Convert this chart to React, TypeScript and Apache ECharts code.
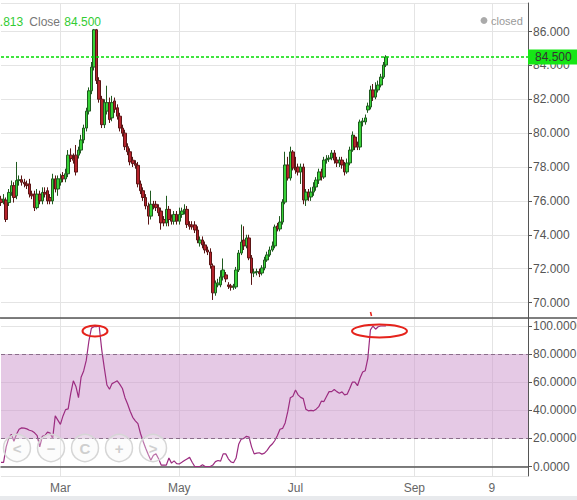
import React, { useEffect, useRef } from 'react';
import * as echarts from 'echarts';

// [open, close, low, high]
const candles: number[][] = [
  [76.1, 75.9, 75.7, 76.3], [76.0, 76.1, 75.8, 76.4], [76.05, 74.9, 74.75, 76.2], [75.9, 76.5, 75.7, 76.7],
  [76.5, 76.9, 76.3, 77.2], [76.9, 76.2, 75.9, 77.1], [76.3, 77.2, 76.1, 78.3], [77.2, 77.25, 76.9, 77.5],
  [77.25, 77.1, 76.9, 77.5], [77.1, 77.0, 76.8, 77.3], [77.0, 76.9, 76.7, 77.2], [77.0, 76.4, 76.2, 77.3],
  [76.4, 76.3, 76.1, 76.6], [76.4, 75.6, 75.4, 76.6], [75.6, 76.4, 75.5, 76.7], [76.4, 76.0, 75.8, 76.6],
  [76.0, 76.5, 75.8, 76.8], [76.5, 76.4, 76.2, 76.8], [76.6, 76.0, 75.8, 76.8], [76.2, 76.0, 75.8, 76.4],
  [76.0, 77.3, 75.8, 77.6], [77.3, 76.7, 76.5, 77.5], [76.7, 77.3, 76.3, 77.5], [77.1, 77.3, 76.9, 77.6],
  [77.5, 77.3, 77.1, 77.7], [77.3, 77.6, 77.1, 77.9], [77.6, 78.7, 77.4, 79.0], [78.7, 78.5, 78.3, 79.1],
  [78.5, 78.4, 78.2, 78.8], [78.7, 77.7, 77.5, 79.3], [78.7, 79.0, 78.5, 79.2], [79.0, 79.6, 78.8, 79.9],
  [79.6, 80.3, 79.4, 80.5], [80.3, 81.3, 80.1, 81.5], [81.3, 82.5, 81.1, 82.7], [82.5, 83.9, 82.3, 84.2],
  [83.9, 86.1, 83.7, 86.15], [86.1, 83.1, 82.9, 86.15], [83.1, 82.0, 81.8, 83.3], [82.0, 80.5, 80.3, 82.2],
  [80.5, 81.8, 80.3, 82.0], [81.3, 81.8, 81.1, 82.8], [81.8, 80.8, 80.6, 82.1], [80.9, 81.8, 80.7, 82.2],
  [81.9, 81.4, 81.2, 82.1], [81.5, 81.0, 80.8, 81.7], [81.0, 80.3, 80.1, 81.2], [80.3, 80.0, 79.8, 80.5],
  [80.0, 79.2, 79.0, 80.2], [79.2, 78.9, 78.7, 79.4], [78.9, 78.3, 78.1, 79.1], [78.4, 78.2, 78.0, 78.6],
  [78.2, 78.1, 77.9, 78.4], [78.1, 77.0, 76.8, 78.3], [77.0, 76.6, 76.4, 77.2], [76.6, 76.2, 76.0, 76.8],
  [76.2, 75.7, 75.5, 76.4], [75.7, 75.1, 74.6, 75.9], [75.1, 75.8, 74.9, 76.6], [75.8, 75.7, 75.5, 76.0],
  [75.8, 75.6, 75.4, 76.0], [75.6, 75.3, 75.1, 75.8], [75.4, 74.7, 74.3, 75.6], [74.9, 74.7, 74.5, 75.1],
  [74.7, 75.5, 74.5, 76.3], [75.5, 74.9, 74.5, 75.7], [75.0, 74.8, 74.6, 75.2], [74.8, 75.2, 74.6, 75.4],
  [75.2, 74.8, 74.6, 75.4], [74.8, 75.2, 74.6, 75.6], [75.2, 75.4, 75.0, 75.6], [75.4, 75.5, 75.2, 75.8],
  [75.5, 74.6, 74.4, 75.7], [74.6, 74.5, 74.3, 74.8], [74.58, 74.46, 74.3, 74.8], [74.58, 74.28, 74.1, 74.8],
  [74.28, 73.69, 73.5, 74.5], [73.51, 73.69, 73.3, 73.9], [73.69, 73.4, 73.2, 73.9], [73.4, 73.1, 72.9, 73.6],
  [73.1, 72.98, 72.8, 73.3], [72.98, 72.22, 72.0, 73.2], [72.16, 70.57, 70.15, 72.3], [70.57, 71.15, 70.4, 71.3],
  [71.04, 71.15, 70.9, 71.4], [71.04, 71.51, 70.9, 71.9], [71.51, 71.92, 71.3, 72.6], [71.63, 71.39, 71.2, 71.8],
  [71.04, 70.95, 70.8, 71.2], [70.98, 70.9, 70.7, 71.1], [70.9, 70.95, 70.75, 71.1], [70.92, 71.92, 70.8, 72.1],
  [71.92, 72.92, 71.8, 73.1], [72.92, 73.57, 72.8, 74.6], [73.69, 73.34, 73.1, 74.5], [73.34, 73.81, 73.2, 74.0],
  [73.81, 72.63, 72.5, 74.0], [72.63, 71.74, 71.04, 72.8], [71.74, 71.8, 71.5, 72.0], [71.8, 71.82, 71.6, 72.0],
  [71.8, 71.7, 71.5, 72.0], [71.74, 72.04, 71.6, 72.2], [72.04, 72.51, 71.9, 72.7], [72.51, 72.81, 72.4, 73.0],
  [72.81, 73.1, 72.7, 73.3], [73.1, 73.34, 73.0, 73.6], [73.34, 74.46, 73.2, 74.6], [74.52, 74.34, 74.2, 74.7],
  [74.34, 74.75, 74.2, 75.1], [74.75, 75.93, 74.6, 76.1], [75.93, 78.12, 75.8, 78.9], [78.12, 77.35, 77.2, 78.6],
  [77.35, 78.89, 77.2, 79.2], [78.89, 77.94, 77.8, 79.0], [77.94, 77.82, 77.6, 78.6], [78.0, 77.7, 77.5, 78.2],
  [77.7, 78.0, 77.0, 78.2], [78.0, 76.05, 75.8, 78.2], [76.05, 76.52, 75.7, 76.7], [76.52, 76.23, 76.0, 76.7],
  [76.23, 76.52, 76.0, 76.8], [76.52, 76.82, 76.3, 77.1], [76.82, 77.23, 76.6, 77.4], [77.23, 77.71, 77.0, 77.9],
  [77.71, 77.41, 77.2, 77.9], [77.41, 78.41, 77.3, 78.6], [78.41, 78.47, 78.2, 78.7], [78.47, 78.53, 78.3, 78.7],
  [78.53, 78.83, 78.4, 79.0], [78.83, 78.41, 78.2, 79.0], [78.41, 78.24, 78.0, 78.6], [78.24, 78.41, 78.0, 78.6],
  [78.41, 78.12, 77.9, 78.6], [78.12, 77.71, 77.5, 78.3], [77.71, 78.24, 77.6, 78.5], [78.24, 79.0, 78.1, 79.2],
  [79.0, 79.89, 78.9, 80.1], [79.77, 79.18, 79.0, 79.9], [79.3, 79.18, 79.0, 79.5], [79.18, 80.66, 79.0, 80.8],
  [80.66, 80.72, 80.4, 80.9], [80.66, 80.9, 80.5, 81.1], [81.37, 81.6, 81.2, 81.8], [81.54, 82.55, 81.4, 82.8],
  [82.55, 82.13, 81.9, 82.9], [82.13, 82.55, 82.0, 83.0], [82.55, 82.84, 82.4, 83.1], [82.84, 83.31, 82.7, 83.5],
  [83.31, 84.02, 83.2, 84.2], [84.02, 84.5, 83.9, 84.6],
];

const oscillator: number[] = [
  3, 3, 14, 20, 23, 18, 23, 26.5, 27.5, 27.3,
  26.8, 25.8, 25.3, 24, 22, 14, 21.5, 22, 24.5, 23.8,
  20, 36, 33, 30, 36, 40.5, 41, 52, 61, 57,
  49, 63.5, 68, 75.5, 89, 98.5, 99.5, 99.5, 100, 83,
  70, 58, 55, 59, 60, 61, 58.5, 55.5, 49, 44.5,
  39.3, 35, 32.5, 30.5, 23.5, 18, 13, 8.5, 4.5, 8,
  9, 5.5, 1, 1, 1, 6, 2.4, 4, 2, 1.8,
  3, 4.3, 5.4, 6.5, 3, 0, 0, 0, 1.2, 0,
  0, 0, 1, 3.5, 4.3, 3.8, 9, 9, 5.5, 3.3,
  2.7, 6, 15.8, 19.5, 20, 21.5, 21, 14, 9, 9.5,
  9.8, 8.8, 9.5, 11.5, 14.2, 16, 18.5, 22, 26.5, 27.1,
  31, 39, 49, 50, 54.5, 51, 49.2, 48.3, 40.8, 39.6,
  40, 39.6, 40.8, 42.6, 46.5, 46.2, 49.8, 53.3, 53.3, 54.8,
  53.3, 52.2, 53.1, 51, 51.5, 55.5, 60, 60, 57.5, 63,
  67.2, 68.2, 77, 97.2, 100, 97.7, 99.5, 100, 100, 100,
];

const xTickLabels = ['Mar', 'May', 'Jul', 'Sep', '9'];
const xTickSlots = [23, 69, 114, 160, 190];
const SLOT_COUNT = 205;
const lastClose = 84.5;
const headerValue = '83.813';
const bandLow = 20;
const bandHigh = 80;

const FONT = 'Liberation Sans, Arial, sans-serif';

export default function App() {
  const ref = useRef<HTMLDivElement>(null);
  useEffect(() => {
    const chart = echarts.init(ref.current!, null, { renderer: 'svg' });
    const slots = Array.from({ length: SLOT_COUNT }, (_, i) => String(i));
    const isTick = (i: number) => xTickSlots.indexOf(i) >= 0;
    const labelAt = (i: number) => {
      const k = xTickSlots.indexOf(i);
      return k >= 0 ? xTickLabels[k] : '';
    };
    const gridLine = { lineStyle: { color: '#e4e4e4', width: 1 } };

    const buttons = ['<', '−', 'C', '+', '>'];
    const buttonGraphics: any[] = [];
    buttons.forEach((b, i) => {
      const cx = 17 + i * 34;
      buttonGraphics.push({
        type: 'circle',
        shape: { cx, cy: 448, r: 13.5 },
        style: { fill: 'rgba(245,245,245,0.35)', stroke: '#d6d6d6', lineWidth: 1.5 },
        z: 50,
      });
      buttonGraphics.push({
        type: 'text',
        x: cx,
        y: 448,
        style: { text: b, fill: '#cfcfcf', font: 'bold 15px ' + FONT, align: 'center', verticalAlign: 'middle' },
        z: 51,
      });
    });

    const option: any = {
      animation: false,
      grid: [
        { left: 1, right: 49, top: 3, height: 315, outerBoundsMode: 'none', containLabel: false },
        { left: 1, right: 49, top: 318, height: 158, outerBoundsMode: 'none', containLabel: false },
      ],
      xAxis: [
        {
          type: 'category', gridIndex: 0, data: slots, boundaryGap: false,
          axisLine: { show: false }, axisTick: { show: false }, axisLabel: { show: false },
          splitLine: { show: true, interval: (i: number) => isTick(i), ...gridLine },
        },
        {
          type: 'category', gridIndex: 1, data: slots, boundaryGap: false,
          axisLine: { show: true, lineStyle: { color: '#555', width: 1.5 } },
          axisTick: { show: false },
          axisLabel: {
            interval: (i: number) => isTick(i),
            formatter: (v: string) => labelAt(Number(v)),
            color: '#666', fontSize: 12, fontFamily: FONT, margin: 6,
          },
          splitLine: { show: true, interval: (i: number) => isTick(i), ...gridLine },
        },
      ],
      yAxis: [
        {
          type: 'value', gridIndex: 0, position: 'right', min: 69.085, max: 87.683, splitNumber: 9,
          axisLine: { show: true, lineStyle: { color: '#555' } },
          axisTick: { show: true, length: 4, lineStyle: { color: '#555' } },
          axisLabel: {
            color: '#555', fontSize: 12, fontFamily: FONT, margin: 5,
            showMinLabel: false, showMaxLabel: false,
            formatter: (v: number) => v.toFixed(3),
          },
          splitLine: { show: true, ...gridLine },
        },
        {
          type: 'value', gridIndex: 1, position: 'right', min: -6.76, max: 105.7, splitNumber: 6,
          axisLine: { show: true, lineStyle: { color: '#555' } },
          axisTick: { show: true, length: 4, lineStyle: { color: '#555' } },
          axisLabel: {
            color: '#555', fontSize: 12, fontFamily: FONT, margin: 5,
            showMinLabel: false, showMaxLabel: false,
            formatter: (v: number) => v.toFixed(4),
          },
          splitLine: { show: true, ...gridLine },
        },
      ],
      series: [
        {
          type: 'candlestick', xAxisIndex: 0, yAxisIndex: 0, data: candles, barWidth: 3, clip: false,
          itemStyle: {
            color: '#37d237', color0: '#b4222b',
            borderColor: '#1f5a1f', borderColor0: '#5a1515', borderWidth: 1,
          },
        },
        {
          type: 'line', xAxisIndex: 0, yAxisIndex: 0, data: [], color: '#00dd00',
          symbol: 'none', showSymbol: false,
          markLine: {
            silent: true, symbol: 'none', animation: false,
            lineStyle: { color: '#00dd00', type: [3, 2], width: 1.5, opacity: 1 },
            label: {
              show: true, position: 'end', distance: 0,
              formatter: () => lastClose.toFixed(3),
              color: '#333', backgroundColor: '#16e616', padding: [2, 10, 1, 7],
              fontSize: 12, fontFamily: FONT,
            },
            data: [{ yAxis: lastClose }],
          },
        },
        {
          type: 'line', xAxisIndex: 1, yAxisIndex: 1, data: oscillator,
          symbol: 'none', showSymbol: false,
          lineStyle: { color: '#9c2c80', width: 1.2 },
          markArea: {
            silent: true,
            itemStyle: { color: 'rgba(204,148,204,0.5)' },
            data: [[{ yAxis: bandLow }, { yAxis: bandHigh }]],
          },
          markLine: {
            silent: true, symbol: 'none', animation: false,
            label: { show: false },
            lineStyle: { color: '#8a6d8a', type: [4, 3], width: 1 },
            data: [{ yAxis: bandLow }, { yAxis: bandHigh }],
          },
        },
      ],
      graphic: [
        { type: 'line', shape: { x1: 0, y1: 318, x2: 577, y2: 318 }, style: { stroke: '#555', lineWidth: 1.5 }, z: 40 },
        { type: 'rect', shape: { x: 0, y: 496, width: 577, height: 4 }, style: { fill: '#e8eaed' }, z: 40 },
        { type: 'text', x: -13.5, y: 22, style: { text: headerValue, fill: '#33cc33', font: '12px ' + FONT, verticalAlign: 'middle' }, z: 60 },
        { type: 'text', x: 29.3, y: 22, style: { text: 'Close', fill: '#777', font: '12px ' + FONT, verticalAlign: 'middle' }, z: 60 },
        { type: 'text', x: 64.3, y: 22, style: { text: lastClose.toFixed(3), fill: '#33cc33', font: '12px ' + FONT, verticalAlign: 'middle' }, z: 60 },
        { type: 'circle', shape: { cx: 484, cy: 20.5, r: 3.4 }, style: { fill: '#aaa' }, z: 60 },
        { type: 'text', x: 491, y: 20.5, style: { text: 'closed', fill: '#999', font: '11px ' + FONT, verticalAlign: 'middle' }, z: 60 },
        ...buttonGraphics,
        { type: 'ellipse', shape: { cx: 95, cy: 331, rx: 12.5, ry: 5.5 }, style: { fill: 'none', stroke: '#e5231c', lineWidth: 2 }, z: 70 },
        { type: 'ellipse', shape: { cx: 379.5, cy: 331, rx: 27.5, ry: 6.5 }, style: { fill: 'none', stroke: '#e5231c', lineWidth: 2 }, z: 70 },
        { type: 'line', shape: { x1: 370.5, y1: 312, x2: 371.5, y2: 316 }, style: { stroke: '#e5231c', lineWidth: 1.5 }, z: 70 },
      ],
    };
    chart.setOption(option);
    return () => chart.dispose();
  }, []);
  return (
    <div
      ref={ref}
      style={{ position: 'fixed', left: 0, top: 0, width: 577, height: 500, background: '#fff' }}
    />
  );
}
